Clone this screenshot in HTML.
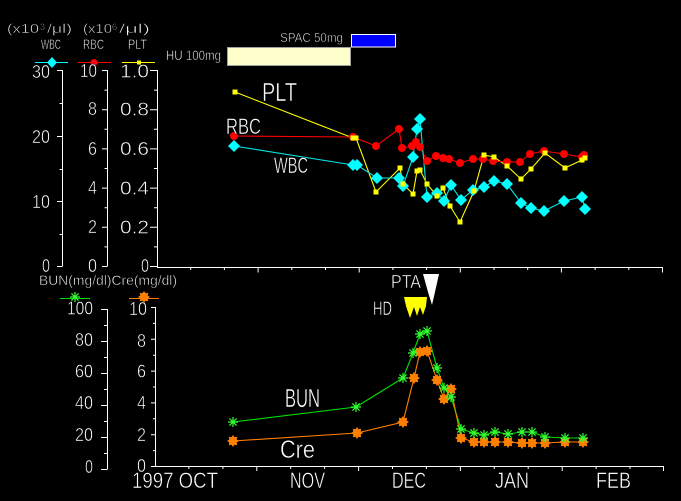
<!DOCTYPE html>
<html><head><meta charset="utf-8">
<style>
html,body{margin:0;padding:0;background:#000;}
svg{display:block;}
text{font-family:"Liberation Sans","Noto Sans CJK JP",sans-serif;fill:#fff;stroke:#000;stroke-width:0.5px;}
</style></head>
<body>
<svg width="681" height="501" viewBox="0 0 681 501" xmlns="http://www.w3.org/2000/svg">
<defs>
<polygon id="dm" points="0,-6 6,0 0,6 -6,0" fill="#00ffff"/>
<circle id="ci" r="4" fill="#ff0000"/>
<rect id="sq" x="-2.5" y="-2.5" width="5" height="5" fill="#ffff00"/>
<g id="as" stroke="#33ff33" stroke-width="1.2"><path d="M-5 0H5M0 -5V5M-3.6 -3.6L3.6 3.6M-3.6 3.6L3.6 -3.6"/></g>
<polygon id="st" fill="#ff8000" points="6,0 3.7,1.5 4.24,4.24 1.5,3.7 0,6 -1.5,3.7 -4.24,4.24 -3.7,1.5 -6,0 -3.7,-1.5 -4.24,-4.24 -1.5,-3.7 0,-6 1.5,-3.7 4.24,-4.24 3.7,-1.5"/>
</defs>
<rect width="681" height="501" fill="#000"/>

<!-- Top legend -->
<text x="7" y="33" font-size="13" textLength="32" lengthAdjust="spacingAndGlyphs">(x10</text>
<text x="40" y="30" font-size="9" textLength="5" lengthAdjust="spacingAndGlyphs">3</text>
<text x="47" y="33" font-size="13" textLength="25" lengthAdjust="spacingAndGlyphs">/μl)</text>
<text x="83" y="33" font-size="13" textLength="29" lengthAdjust="spacingAndGlyphs">(x10</text>
<text x="112" y="30" font-size="9" textLength="5" lengthAdjust="spacingAndGlyphs">6</text>
<text x="119" y="33" font-size="13" textLength="31" lengthAdjust="spacingAndGlyphs">/μl)</text>
<text x="41" y="49" font-size="14" textLength="20" lengthAdjust="spacingAndGlyphs">WBC</text>
<text x="83" y="49" font-size="14" textLength="21" lengthAdjust="spacingAndGlyphs">RBC</text>
<text x="128" y="49" font-size="14" textLength="19" lengthAdjust="spacingAndGlyphs">PLT</text>
<line x1="35" y1="62.5" x2="68" y2="62.5" stroke="#00ffff"/>
<polygon points="52,57 57,62.5 52,68 47,62.5" fill="#00ffff"/>
<line x1="78" y1="62.5" x2="111" y2="62.5" stroke="#ff0000"/>
<circle cx="94" cy="62.5" r="3.5" fill="#ff0000"/>
<line x1="122" y1="62.5" x2="155" y2="62.5" stroke="#ffff00"/>
<rect x="137" y="60.5" width="4" height="4" fill="#ffff00"/>

<!-- Drug bars -->
<text x="166" y="60" font-size="14" textLength="55" lengthAdjust="spacingAndGlyphs">HU 100mg</text>
<rect x="227.5" y="47.5" width="123" height="18" fill="#ffffcc" stroke="#a0a0a0"/>
<text x="280" y="42" font-size="13" textLength="63" lengthAdjust="spacingAndGlyphs">SPAC 50mg</text>
<rect x="351.5" y="34.5" width="44" height="12.5" fill="#0000ff" stroke="#ffffff"/>

<!-- Upper axes -->
<g stroke="#fff" stroke-width="1" fill="none">
<path d="M62.5 70V266.5M57 70.5H62M57 136.5H62M57 201.5H62M57 266.5H62M59.5 103.5H62M59.5 169.5H62M59.5 234.5H62"/>
<path d="M107.5 70V266.5M102 266.5H107M104.5 246.9H107M102 227.3H107M104.5 207.7H107M102 188.1H107M104.5 168.5H107M102 148.9H107M104.5 129.3H107M102 109.7H107M104.5 90.1H107M102 70.5H107"/>
<path d="M157.5 70V267.5M150 266.5H157M154 246.9H157M150 227.3H157M154 207.7H157M150 188.1H157M154 168.5H157M150 148.9H157M154 129.3H157M150 109.7H157M154 90.1H157M150 70.5H157"/>
<path d="M157 267.5H663M190.7 267V270M224.4 267V270M258.1 267V272.5M291.8 267V270M325.5 267V270M359.2 267V272.5M392.9 267V270M426.6 267V270M460.3 267V272.5M494 267V270M527.7 267V270M561.4 267V272.5M595.1 267V270M628.8 267V270M662.5 267V272.5"/>
</g>
<!-- Upper tick labels -->
<g font-size="18">
<text x="32" y="78" textLength="18" lengthAdjust="spacingAndGlyphs">30</text>
<text x="32" y="143" textLength="18" lengthAdjust="spacingAndGlyphs">20</text>
<text x="32" y="208" textLength="18" lengthAdjust="spacingAndGlyphs">10</text>
<text x="42" y="272" textLength="8" lengthAdjust="spacingAndGlyphs">0</text>
<text x="80" y="77" textLength="17" lengthAdjust="spacingAndGlyphs">10</text>
<text x="88" y="115" textLength="9" lengthAdjust="spacingAndGlyphs">8</text>
<text x="88" y="155" textLength="9" lengthAdjust="spacingAndGlyphs">6</text>
<text x="88" y="194" textLength="9" lengthAdjust="spacingAndGlyphs">4</text>
<text x="88" y="233" textLength="9" lengthAdjust="spacingAndGlyphs">2</text>
<text x="88" y="272" textLength="9" lengthAdjust="spacingAndGlyphs">0</text>
<text x="120" y="77.5" textLength="29" lengthAdjust="spacingAndGlyphs">1.0</text>
<text x="120" y="115.5" textLength="29" lengthAdjust="spacingAndGlyphs">0.8</text>
<text x="120" y="155" textLength="29" lengthAdjust="spacingAndGlyphs">0.6</text>
<text x="120" y="194.5" textLength="29" lengthAdjust="spacingAndGlyphs">0.4</text>
<text x="120" y="233.5" textLength="29" lengthAdjust="spacingAndGlyphs">0.2</text>
<text x="141" y="272" textLength="8" lengthAdjust="spacingAndGlyphs">0</text>
</g>

<!-- Upper series lines -->
<g fill="none" stroke-width="1.1">
<polyline stroke="#ffff00" points="235,92 353,138 356,138 376,192 400,168 403,184 413,194 417,171 420,170 427,184 437,196 443,188 450,206 460,222 474,191 484,155 494,157 507,166 521,179 531,169 545,153 565,168 582,160 585,158"/>
<polyline stroke="#ff0000" points="234,136 353,137 376,146 399,129 402,148 412,146 416,142 420,147 427,161 436,156 443,158 449,159 460,163 473,159 483,159 493,161 507,162 520,162 530,154 544,151 564,154 582,157 584,155"/>
<polyline stroke="#00e8e8" points="234,146 353,165 357,165 377,178 399,178 403,186 413,157 417,129 420,119 427,197 437,193 444,201 451,185 461,200 473,190 484,187 494,181 507,184 521,203 531,208 544,211 564,201 582,197 585,209"/>
</g>
<!-- Upper markers -->
<g>
<use href="#ci" x="234" y="136"/><use href="#ci" x="353" y="137"/><use href="#ci" x="376" y="146"/><use href="#ci" x="399" y="129"/><use href="#ci" x="402" y="148"/><use href="#ci" x="412" y="146"/><use href="#ci" x="416" y="142"/><use href="#ci" x="420" y="147"/><use href="#ci" x="427" y="161"/><use href="#ci" x="436" y="156"/><use href="#ci" x="443" y="158"/><use href="#ci" x="449" y="159"/><use href="#ci" x="460" y="163"/><use href="#ci" x="473" y="159"/><use href="#ci" x="483" y="159"/><use href="#ci" x="493" y="161"/><use href="#ci" x="507" y="162"/><use href="#ci" x="520" y="162"/><use href="#ci" x="530" y="154"/><use href="#ci" x="544" y="151"/><use href="#ci" x="564" y="154"/><use href="#ci" x="582" y="157"/><use href="#ci" x="584" y="155"/>
</g>
<g>
<use href="#dm" x="234" y="146"/><use href="#dm" x="353" y="165"/><use href="#dm" x="357" y="165"/><use href="#dm" x="377" y="178"/><use href="#dm" x="399" y="178"/><use href="#dm" x="403" y="186"/><use href="#dm" x="413" y="157"/><use href="#dm" x="417" y="129"/><use href="#dm" x="420" y="119"/><use href="#dm" x="427" y="197"/><use href="#dm" x="437" y="193"/><use href="#dm" x="444" y="201"/><use href="#dm" x="451" y="185"/><use href="#dm" x="461" y="200"/><use href="#dm" x="473" y="190"/><use href="#dm" x="484" y="187"/><use href="#dm" x="494" y="181"/><use href="#dm" x="507" y="184"/><use href="#dm" x="521" y="203"/><use href="#dm" x="531" y="208"/><use href="#dm" x="544" y="211"/><use href="#dm" x="564" y="201"/><use href="#dm" x="582" y="197"/><use href="#dm" x="585" y="209"/>
</g>
<g>
<use href="#sq" x="235" y="92"/><use href="#sq" x="353" y="138"/><use href="#sq" x="356" y="138"/><use href="#sq" x="376" y="192"/><use href="#sq" x="400" y="168"/><use href="#sq" x="403" y="184"/><use href="#sq" x="413" y="194"/><use href="#sq" x="417" y="171"/><use href="#sq" x="420" y="170"/><use href="#sq" x="427" y="184"/><use href="#sq" x="437" y="196"/><use href="#sq" x="443" y="188"/><use href="#sq" x="450" y="206"/><use href="#sq" x="460" y="222"/><use href="#sq" x="474" y="191"/><use href="#sq" x="484" y="155"/><use href="#sq" x="494" y="157"/><use href="#sq" x="507" y="166"/><use href="#sq" x="521" y="179"/><use href="#sq" x="531" y="169"/><use href="#sq" x="545" y="153"/><use href="#sq" x="565" y="168"/><use href="#sq" x="582" y="160"/><use href="#sq" x="585" y="158"/>
</g>
<!-- Upper series labels -->
<text x="262" y="101" font-size="26" textLength="35" lengthAdjust="spacingAndGlyphs">PLT</text>
<text x="226" y="134" font-size="22" textLength="35" lengthAdjust="spacingAndGlyphs">RBC</text>
<text x="274" y="173" font-size="22" textLength="34" lengthAdjust="spacingAndGlyphs">WBC</text>

<!-- Lower legend -->
<text x="39" y="285" font-size="14" textLength="138" lengthAdjust="spacingAndGlyphs">BUN(mg/dl)Cre(mg/dl)</text>
<line x1="60" y1="298.5" x2="90" y2="298.5" stroke="#00e000"/>
<use href="#as" x="75" y="297"/>
<line x1="129" y1="298.5" x2="159" y2="298.5" stroke="#ff8000"/>
<use href="#st" x="144" y="297"/>

<!-- PTA / HD -->
<text x="391" y="288" font-size="18" textLength="30" lengthAdjust="spacingAndGlyphs">PTA</text>
<polygon points="423,274 439,274 435,292 432,305 428,292" fill="#ffffff"/>
<text x="373" y="315" font-size="19" textLength="19" lengthAdjust="spacingAndGlyphs">HD</text>
<polygon points="404,297 427,297 426,306 423,315 420,307 417,316 414,307 410,318 406,306" fill="#ffff00"/>

<!-- Lower axes -->
<g stroke="#fff" stroke-width="1" fill="none">
<path d="M107.5 309V469.5M101 309.5H107M104 325.5H107M101 341.5H107M104 357.5H107M101 373.5H107M104 389.5H107M101 405.5H107M104 421.5H107M101 437.5H107M104 453.5H107M101 469.5H107"/>
<path d="M155.5 307V467M151 307.5H155M153 323.4H155M151 339.3H155M153 355.2H155M151 371.1H155M153 387H155M151 402.9H155M153 418.8H155M151 434.7H155M153 450.6H155M151 466.5H155"/>
<path d="M155 466.5H664M188.9 466V469M222.9 466V469M256.8 466V471M290.7 466V469M324.6 466V469M358.6 466V471M392.5 466V469M426.4 466V469M460.4 466V471M494.3 466V469M528.2 466V469M562.2 466V471M596.1 466V469M630 466V469M663.5 466V471"/>
</g>
<g font-size="18">
<text x="67" y="314.5" textLength="26" lengthAdjust="spacingAndGlyphs">100</text>
<text x="75" y="346" textLength="18" lengthAdjust="spacingAndGlyphs">80</text>
<text x="75" y="377.5" textLength="18" lengthAdjust="spacingAndGlyphs">60</text>
<text x="75" y="409" textLength="18" lengthAdjust="spacingAndGlyphs">40</text>
<text x="75" y="441" textLength="18" lengthAdjust="spacingAndGlyphs">20</text>
<text x="85" y="473" textLength="8" lengthAdjust="spacingAndGlyphs">0</text>
<text x="129" y="315" textLength="18" lengthAdjust="spacingAndGlyphs">10</text>
<text x="137" y="347" textLength="9" lengthAdjust="spacingAndGlyphs">8</text>
<text x="137" y="377.5" textLength="9" lengthAdjust="spacingAndGlyphs">6</text>
<text x="137" y="409" textLength="9" lengthAdjust="spacingAndGlyphs">4</text>
<text x="137" y="441" textLength="9" lengthAdjust="spacingAndGlyphs">2</text>
<text x="137" y="472" textLength="9" lengthAdjust="spacingAndGlyphs">0</text>
</g>
<!-- Month labels -->
<g font-size="22">
<text x="132" y="488" textLength="86" lengthAdjust="spacingAndGlyphs">1997 OCT</text>
<text x="290" y="488" textLength="35" lengthAdjust="spacingAndGlyphs">NOV</text>
<text x="392" y="488" textLength="34" lengthAdjust="spacingAndGlyphs">DEC</text>
<text x="495" y="488" textLength="34" lengthAdjust="spacingAndGlyphs">JAN</text>
<text x="596" y="488" textLength="35" lengthAdjust="spacingAndGlyphs">FEB</text>
</g>

<!-- Lower series -->
<g fill="none" stroke-width="1.1">
<polyline stroke="#00e000" points="233,422 356,407 403,378 413,353 420,334 427,331 437,368 444,388 451,397 461,429 474,433 484,435 495,432 508,434 522,432 532,432 545,437 565,438 583,438"/>
<polyline stroke="#ff8000" points="233,441 357,433 403,422 414,378 420,352 427,351 437,380 444,399 451,389 461,438 474,442 484,442 495,442 508,442 522,443 532,443 545,443 565,442 583,442"/>
</g>
<g>
<use href="#st" x="233" y="441"/><use href="#st" x="357" y="433"/><use href="#st" x="403" y="422"/><use href="#st" x="414" y="378"/><use href="#st" x="420" y="352"/><use href="#st" x="427" y="351"/><use href="#st" x="437" y="380"/><use href="#st" x="444" y="399"/><use href="#st" x="451" y="389"/><use href="#st" x="461" y="438"/><use href="#st" x="474" y="442"/><use href="#st" x="484" y="442"/><use href="#st" x="495" y="442"/><use href="#st" x="508" y="442"/><use href="#st" x="522" y="443"/><use href="#st" x="532" y="443"/><use href="#st" x="545" y="443"/><use href="#st" x="565" y="442"/><use href="#st" x="583" y="442"/>
</g>
<g>
<use href="#as" x="233" y="422"/><use href="#as" x="356" y="407"/><use href="#as" x="403" y="378"/><use href="#as" x="413" y="353"/><use href="#as" x="420" y="334"/><use href="#as" x="427" y="331"/><use href="#as" x="437" y="368"/><use href="#as" x="444" y="388"/><use href="#as" x="451" y="397"/><use href="#as" x="461" y="429"/><use href="#as" x="474" y="433"/><use href="#as" x="484" y="435"/><use href="#as" x="495" y="432"/><use href="#as" x="508" y="434"/><use href="#as" x="522" y="432"/><use href="#as" x="532" y="432"/><use href="#as" x="545" y="437"/><use href="#as" x="565" y="438"/><use href="#as" x="583" y="438"/>
</g>
<text x="285" y="407" font-size="26" textLength="35" lengthAdjust="spacingAndGlyphs">BUN</text>
<text x="280" y="458" font-size="25" textLength="35" lengthAdjust="spacingAndGlyphs">Cre</text>
</svg>
</body></html>
